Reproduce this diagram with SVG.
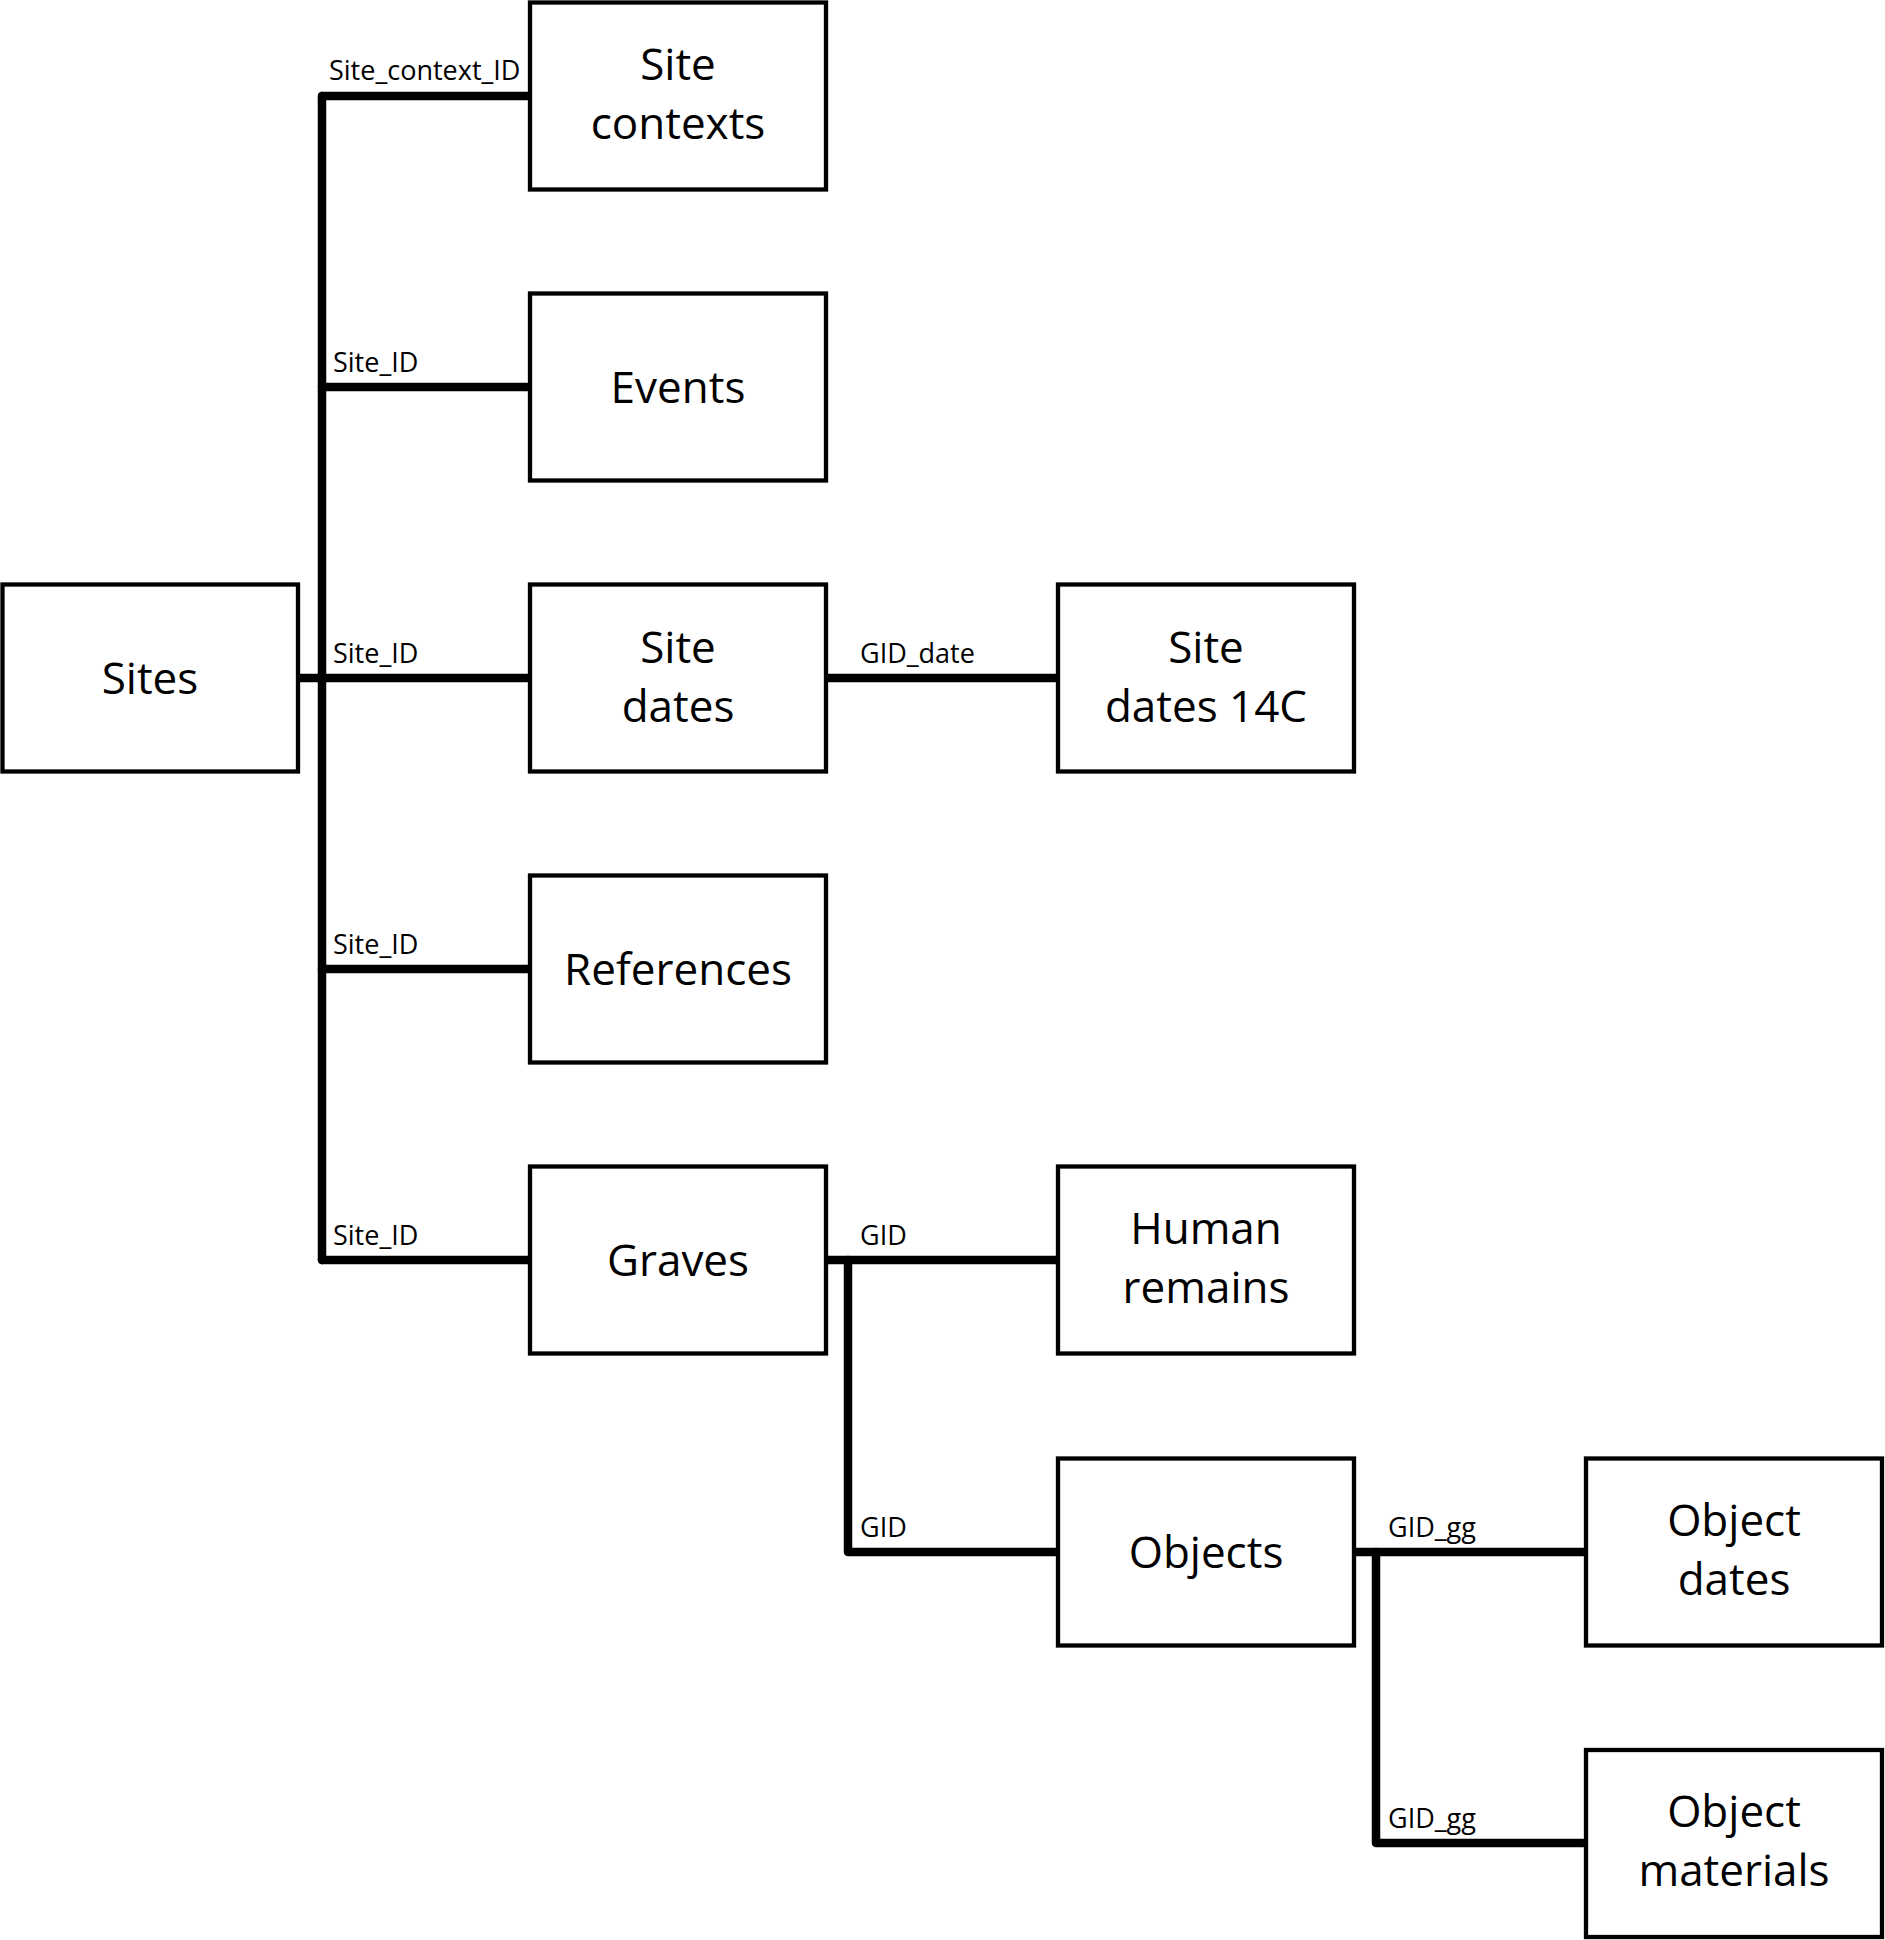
<svg xmlns="http://www.w3.org/2000/svg" width="1885" height="1940" viewBox="0 0 1885 1940">
<style>
.box{fill:#fff;stroke:#000;stroke-width:4.3}
.nt{font-family:"Open Sans","Noto Sans",sans-serif;font-size:44px;text-anchor:middle;fill:#000}
.lt{font-family:"Open Sans","Noto Sans",sans-serif;font-size:27px;fill:#000}
.cn{fill:none;stroke:#000;stroke-width:8.5;stroke-linecap:round;stroke-linejoin:round}
</style>
<rect width="1885" height="1940" fill="#fff"/>
<g id="connectors">
<path class="cn" d="M322,96 V1260"/>
<path class="cn" d="M322,96 H530"/>
<path class="cn" d="M322,387 H530"/>
<path class="cn" d="M298,678 H530"/>
<path class="cn" d="M322,969 H530"/>
<path class="cn" d="M322,1260 H530"/>
<path class="cn" d="M826,678 H1058"/>
<path class="cn" d="M826,1260 H1058"/>
<path class="cn" d="M848,1260 V1552 H1058"/>
<path class="cn" d="M1354,1552 H1586"/>
<path class="cn" d="M1376,1552 V1843 H1586"/>
<text class="lt" x="329" y="80">Site_context_ID</text>
<text class="lt" x="333" y="372">Site_ID</text>
<text class="lt" x="333" y="663">Site_ID</text>
<text class="lt" x="333" y="954">Site_ID</text>
<text class="lt" x="333" y="1245">Site_ID</text>
<text class="lt" x="860" y="663">GID_date</text>
<text class="lt" x="860" y="1245">GID</text>
<text class="lt" x="860" y="1537">GID</text>
<text class="lt" x="1388" y="1537">GID_gg</text>
<text class="lt" x="1388" y="1828">GID_gg</text>
</g>
<g id="sites"><rect class="box" x="2.5" y="584.5" width="295.5" height="187"/><text class="nt" x="150" y="694">Sites</text></g>
<g id="site-contexts"><rect class="box" x="530" y="2.5" width="296" height="187"/><text class="nt" x="678" y="80">Site</text><text class="nt" x="678" y="139">contexts</text></g>
<g id="events"><rect class="box" x="530" y="293.5" width="296" height="187"/><text class="nt" x="678" y="403">Events</text></g>
<g id="site-dates"><rect class="box" x="530" y="584.5" width="296" height="187"/><text class="nt" x="678" y="663">Site</text><text class="nt" x="678" y="722">dates</text></g>
<g id="references"><rect class="box" x="530" y="875.5" width="296" height="187"/><text class="nt" x="678" y="985">References</text></g>
<g id="graves"><rect class="box" x="530" y="1166.5" width="296" height="187"/><text class="nt" x="678" y="1276">Graves</text></g>
<g id="site-dates-14c"><rect class="box" x="1058" y="584.5" width="296" height="187"/><text class="nt" x="1206" y="663">Site</text><text class="nt" x="1206" y="722">dates 14C</text></g>
<g id="human-remains"><rect class="box" x="1058" y="1166.5" width="296" height="187"/><text class="nt" x="1206" y="1244">Human</text><text class="nt" x="1206" y="1303">remains</text></g>
<g id="objects"><rect class="box" x="1058" y="1458.5" width="296" height="187"/><text class="nt" x="1206" y="1568">Objects</text></g>
<g id="object-dates"><rect class="box" x="1586" y="1458.5" width="296" height="187"/><text class="nt" x="1734" y="1536">Object</text><text class="nt" x="1734" y="1595">dates</text></g>
<g id="object-materials"><rect class="box" x="1586" y="1750" width="296" height="187"/><text class="nt" x="1734" y="1827">Object</text><text class="nt" x="1734" y="1886">materials</text></g>
</svg>
